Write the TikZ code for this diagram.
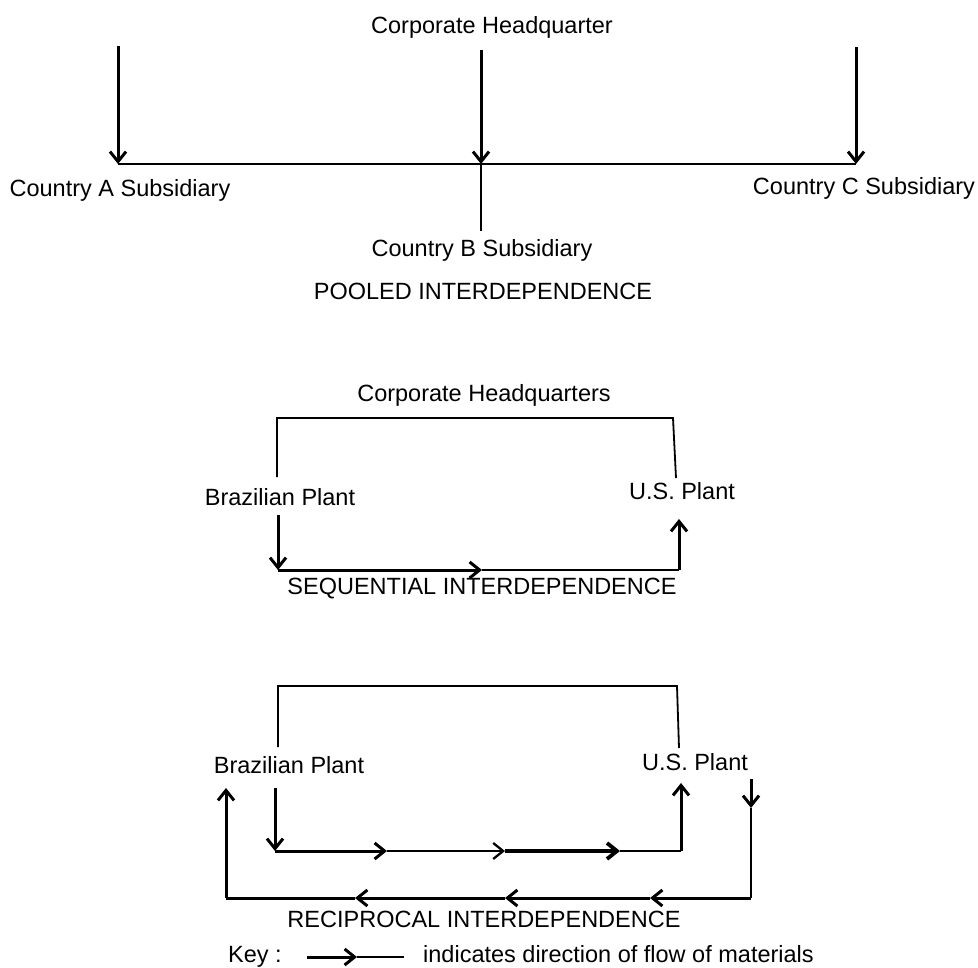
\documentclass[tikz,border=0pt]{standalone}
\usepackage{fontspec}
\setmainfont{Liberation Sans}
\usetikzlibrary{arrows.meta}

\tikzset{
  lbl/.style={font=\fontsize{23.5}{28}\selectfont, inner sep=0pt, anchor=base},
  thinline/.style={line width=1.8pt},
  midline/.style={line width=2.3pt},
  thickline/.style={line width=3pt},
  heavyline/.style={line width=3.8pt},
  tip/.style={-{Straight Barb[length=10pt,width=16pt]}},
}

\begin{document}
\begin{tikzpicture}[x=1pt,y=-1pt]
\useasboundingbox (0,0) rectangle (978,968);

% ---------- Pooled interdependence ----------
\node[lbl] (hq1) at (492,34) {Corporate Headquarter};
\node[lbl] (ca) at (120,197) {Country A Subsidiary};
\node[lbl] (cc) at (864,195) {Country C Subsidiary};
\node[lbl] (cb) at (482,257) {Country B Subsidiary};
\node[lbl] (pooled) at (483,300) {POOLED INTERDEPENDENCE};

\coordinate (pa0) at (118,46);  \coordinate (pa1) at (118,164);
\coordinate (pb0) at (481,50);  \coordinate (pb1) at (481,164);
\coordinate (pb2) at (481,231);
\coordinate (pc0) at (856,47);  \coordinate (pc1) at (856,164);

\draw[thinline] (pa1) -- (pc1);
\draw[thinline] (pb1) -- (pb2);
\draw[thickline,tip] (pa0) -- (pa1);
\draw[thickline,tip] (pb0) -- (pb1);
\draw[thickline,tip] (pc0) -- (pc1);

% ---------- Sequential interdependence ----------
\node[lbl] (hq2) at (484,402) {Corporate Headquarters};
\node[lbl] (br2) at (280,505) {Brazilian Plant};
\node[lbl] (us2) at (682,499) {U.S. Plant};
\node[lbl] (seq) at (482,594) {SEQUENTIAL INTERDEPENDENCE};

\coordinate (s1) at (277,477); \coordinate (s2) at (277,418);
\coordinate (s3) at (673,418); \coordinate (s4) at (676,478);
\draw[thinline] (s1) -- (s2) -- (s3) -- (s4);

\coordinate (sd0) at (278,515); \coordinate (sd1) at (278,570);
\coordinate (sm)  at (482,570); \coordinate (se)  at (679,570);
\coordinate (su)  at (679,519);
\draw[thickline,tip] (sd1) -- (sm);
\draw[thickline,tip] (sd0) -- (sd1);
\draw[midline] (sm) -- (se);
\draw[thickline,tip] (se) -- (su);

% ---------- Reciprocal interdependence ----------
\node[lbl] (br3) at (289,773) {Brazilian Plant};
\node[lbl] (us3) at (695,770) {U.S. Plant};
\node[lbl] (rec) at (484,927) {RECIPROCAL INTERDEPENDENCE};

\coordinate (r1) at (278,747); \coordinate (r2) at (278,686);
\coordinate (r3) at (677,686); \coordinate (r4) at (679,748);
\draw[thinline] (r1) -- (r2) -- (r3) -- (r4);

% forward flow: Brazil -> U.S.
\coordinate (fd0) at (275,788); \coordinate (fd1) at (275,851);
\coordinate (f1) at (387,851);  \coordinate (f2) at (505,851);
\coordinate (f3) at (620,851);  \coordinate (fe) at (681,851);
\coordinate (fu) at (681,783);
\draw[thickline,tip] (fd0) -- (fd1);
\draw[thickline,tip] (fd1) -- (f1);
\draw[midline,tip] (f1) -- (f2);
\draw[heavyline,tip] (f2) -- (f3);
\draw[midline] (f3) -- (fe);
\draw[thickline,tip] (fe) -- (fu);

% return flow: U.S. -> Brazil
\coordinate (bd0) at (751,779); \coordinate (bd1) at (751,808);
\coordinate (bd2) at (751,898);
\coordinate (b1) at (650,898);  \coordinate (b2) at (505,898);
\coordinate (b3) at (355,898);  \coordinate (be) at (226,898);
\coordinate (bu) at (226,788);
\draw[thickline,tip] (bd0) -- (bd1);
\draw[thinline] (bd1) -- (bd2);
\draw[thickline,tip] (bd2) -- (b1);
\draw[thickline,tip] (b1) -- (b2);
\draw[thickline,tip] (b2) -- (b3);
\draw[thickline] (b3) -- (be);
\draw[thickline,tip] (be) -- (bu);

% ---------- Key ----------
\node[lbl,anchor=base west] (key) at (228,962) {Key :};
\node[lbl,anchor=base west] (keytxt) at (423,962) {indicates direction of flow of materials};
\coordinate (k0) at (307,957); \coordinate (k1) at (357,957);
\coordinate (k2) at (404,957);
\draw[thickline,tip] (k0) -- (k1);
\draw[thinline] (k1) -- (k2);
\end{tikzpicture}
\end{document}
